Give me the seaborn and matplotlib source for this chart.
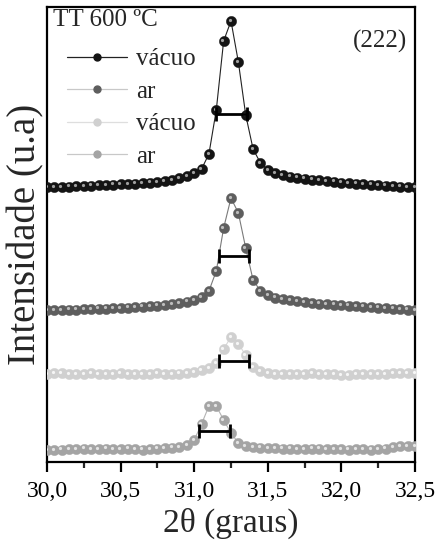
import numpy as np
import matplotlib
matplotlib.use("Agg")
import matplotlib.pyplot as plt
import seaborn as sns
from matplotlib.lines import Line2D
from matplotlib.transforms import offset_copy

# ---------------- data ----------------
two_theta = [30.00, 30.05, 30.10, 30.15, 30.20, 30.25, 30.30, 30.35, 30.40, 30.45,
             30.50, 30.55, 30.60, 30.65, 30.70, 30.75, 30.80, 30.85, 30.90, 30.95,
             31.00, 31.05, 31.10, 31.15, 31.20, 31.25, 31.30, 31.35, 31.40, 31.45,
             31.50, 31.55, 31.60, 31.65, 31.70, 31.75, 31.80, 31.85, 31.90, 31.95,
             32.00, 32.05, 32.10, 32.15, 32.20, 32.25, 32.30, 32.35, 32.40, 32.45,
             32.50]

vacuo_1 = [275, 275, 275, 275.5, 276, 276, 276.5, 277, 277, 277.5,
           278, 278, 278.5, 279, 279.5, 280, 281, 282, 284, 286,
           289, 293, 308, 352, 421, 441, 400, 347, 313, 299,
           292, 289, 287, 285.5, 284.5, 283.5, 282.5, 282, 281, 280.5,
           279.5, 279, 278.5, 278, 277.5, 277, 276.5, 276, 275.5, 275,
           275]

ar_1 = [152, 152, 152, 152.5, 152.5, 153, 153, 153.5, 153.5, 154,
        154, 154.5, 155, 155.5, 156, 156.5, 157, 158, 159, 160.5,
        162, 165, 171, 191, 234, 264, 249, 214, 182, 171,
        167, 164.5, 163, 162, 161, 160, 159, 158.5, 158, 157.5,
        157, 156.5, 156, 155.5, 155, 154.5, 154, 153.5, 153, 152.5,
        152]

vacuo_2 = [88, 89, 89, 88, 88, 88, 89, 88, 88, 88,
           89, 88, 88, 88, 88, 89, 88, 88, 88.5, 89,
           90, 92, 94, 99, 113, 125, 118, 107, 95, 91,
           89, 88, 88, 88, 88, 88, 89, 88, 88, 88,
           87, 87, 88, 88, 88, 88, 88, 89, 89, 89,
           89]

ar_2 = [12, 12, 12.5, 13, 13, 13.5, 13, 13, 13.5, 13,
        13, 13.5, 13, 12.5, 13, 13.5, 14, 14.5, 15, 17,
        22, 38, 56, 56, 42, 29, 19, 16, 15, 14.5,
        14, 14, 13.5, 13.5, 13, 13, 13.5, 13.5, 13, 13,
        13, 12.5, 13, 13, 12.5, 13, 13.5, 15, 16, 16,
        16]

series_labels = ["vácuo", "ar", "vácuo", "ar"]
series_colors = ["#141414", "#5e5e5e", "#d0d0d0", "#a4a4a4"]
highlight_colors = ["#a0a0a0", "#bdbdbd", "#f6f6f6", "#e4e4e4"]
line_colors = ["#222222", "#7a7a7a", "#d8d8d8", "#b4b4b4"]
legend_line_colors = ["#222222", "#c8c8c8", "#dedede", "#c8c8c8"]

# FWHM bars
fwhm_left = [31.15, 31.17, 31.17, 31.03]
fwhm_right = [31.36, 31.37, 31.37, 31.24]
fwhm_y = [348, 206, 101, 31]

xtick_values = [30.0, 30.5, 31.0, 31.5, 32.0, 32.5]
xtick_labels = ["30,0", "30,5", "31,0", "31,5", "32,0", "32,5"]

# ---------------- style ----------------
sns.set_style("ticks")
plt.rcParams["font.family"] = ["Liberation Serif", "DejaVu Serif"]

fig = plt.figure(figsize=(4.37, 5.50), dpi=100)
ax = fig.add_axes([47 / 437, 1 - 462 / 550, (415 - 47) / 437, (462 - 7) / 550])

all_series = [vacuo_1, ar_1, vacuo_2, ar_2]
hl_trans = offset_copy(ax.transData, fig=fig, x=-1.3, y=1.3, units="dots")
for i, ys in enumerate(all_series):
    sns.lineplot(x=two_theta, y=ys, ax=ax, color=line_colors[i], linewidth=0.8,
                 zorder=2 + i * 0.1, legend=False)
    ax.plot(two_theta, ys, linestyle="none", marker="o", markersize=7.4,
            markerfacecolor=series_colors[i], markeredgecolor=series_colors[i],
            markeredgewidth=0.3, zorder=3 + i * 0.1)
    ax.plot(two_theta, ys, linestyle="none", marker="o", markersize=2.3,
            markerfacecolor=highlight_colors[i], markeredgecolor="none",
            transform=hl_trans, zorder=3.05 + i * 0.1)

centers = [(a + b) / 2 for a, b in zip(fwhm_left, fwhm_right)]
halfw = [(b - a) / 2 for a, b in zip(fwhm_left, fwhm_right)]
ax.errorbar(centers, fwhm_y, xerr=halfw, fmt="none", ecolor="black",
            elinewidth=2.0, capsize=5, capthick=2.0, zorder=6)

ax.set_xlim(30.0, 32.5)
ax.set_ylim(0, 455)
ax.set_yticks([])
ax.set_xticks(xtick_values)
ax.set_xticklabels(xtick_labels, fontsize=17)
ax.set_xticks([30.25, 30.75, 31.25, 31.75, 32.25], minor=True)
ax.tick_params(axis="x", which="major", direction="out", length=7, width=1.6,
               pad=7, colors="black")
ax.tick_params(axis="x", which="minor", direction="out", length=4.5, width=1.6)
for s in ax.spines.values():
    s.set_linewidth(1.6)
    s.set_color("black")

ax.set_xlabel("2θ (graus)", fontsize=24, labelpad=4)
ax.set_ylabel("Intensidade (u.a)", fontsize=28, labelpad=2)

ax.text(0.015, 0.995, "TT 600 ºC", transform=ax.transAxes, fontsize=18,
        ha="left", va="top")
ax.text(0.905, 0.95, "(222)", transform=ax.transAxes, fontsize=18,
        ha="center", va="top")

handles = []
for i in range(4):
    handles.append(Line2D([0], [0], color=legend_line_colors[i], linewidth=0.9,
                          marker="o", markersize=5, markerfacecolor=series_colors[i],
                          markeredgecolor=series_colors[i]))
leg = ax.legend(handles, series_labels, loc="upper left", frameon=False,
                fontsize=18, handlelength=2.4, handletextpad=0.35,
                labelspacing=0.4, borderaxespad=0,
                bbox_to_anchor=(0.028, 0.932))

fig.savefig("out.png", dpi=100)
